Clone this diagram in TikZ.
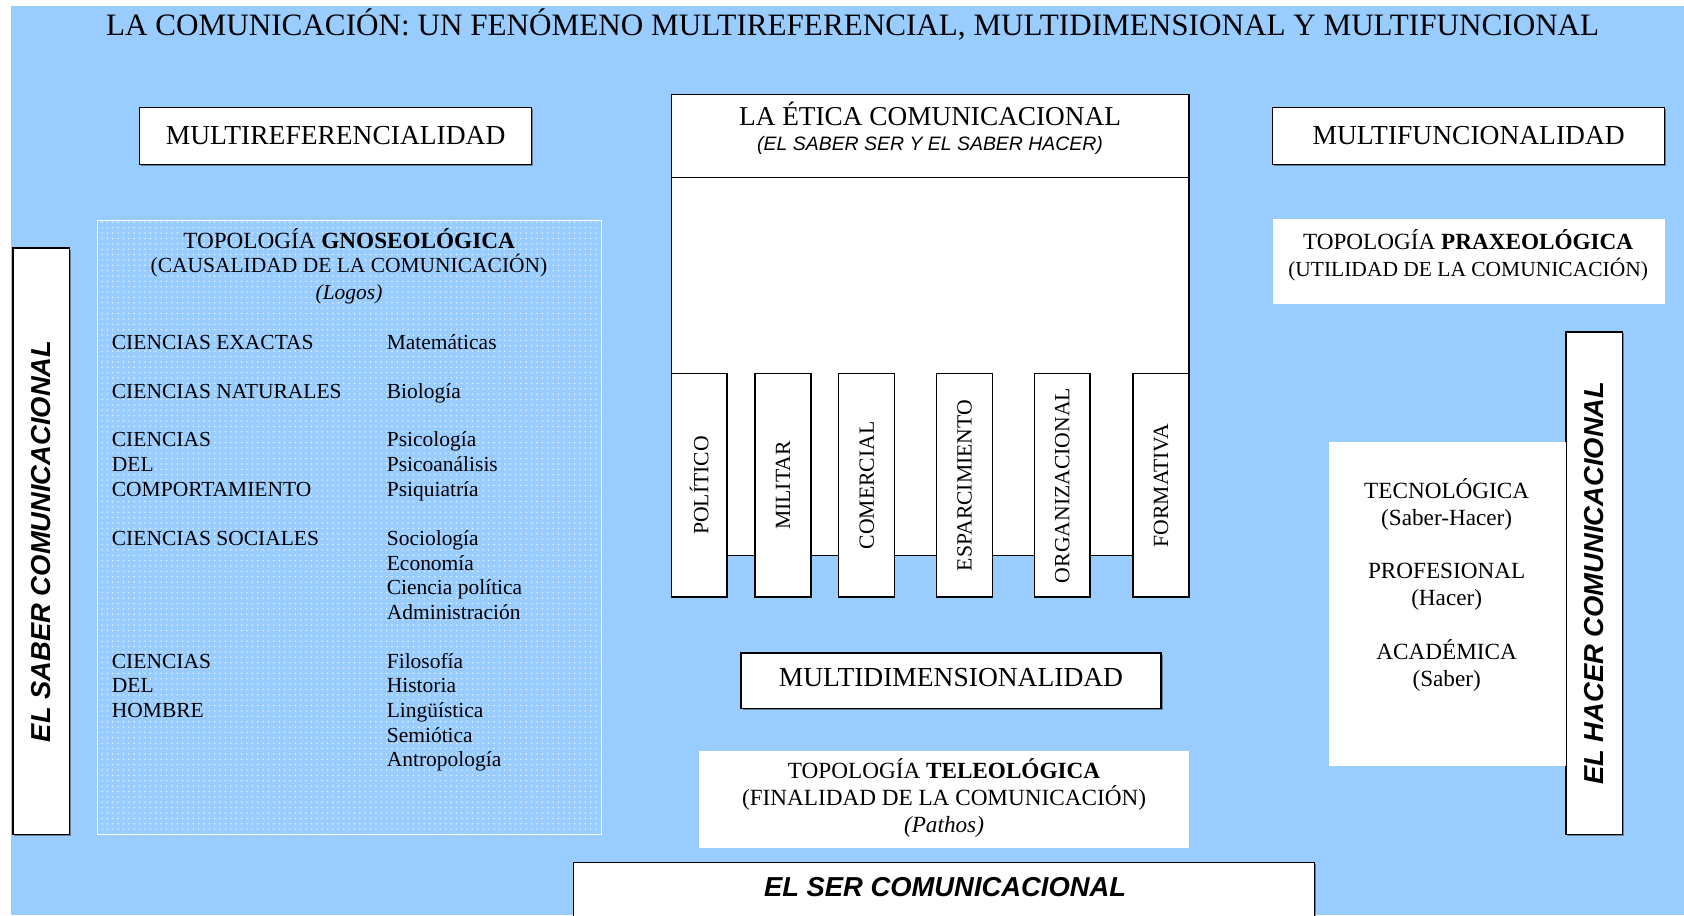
\documentclass[tikz,border=0pt]{standalone}
\usepackage{fontspec}
\setmainfont{Liberation Serif}
\setsansfont{Liberation Sans}
\usetikzlibrary{shadows,patterns.meta}
\definecolor{bg}{HTML}{99CCFF}
\tikzset{
  boxed/.style={draw=black, line width=1.2pt, fill=white, inner sep=0pt,
    drop shadow={shadow xshift=1.5pt, shadow yshift=-1.5pt, fill=black!70, opacity=.6}},
  plain/.style={fill=white, inner sep=0pt},
  big/.style={font=\fontsize{25.6}{30}\selectfont, inner sep=0pt},
  txt/.style={font=\fontsize{20}{23}\selectfont, inner sep=0pt},
  txtl/.style={font=\fontsize{21.6}{25}\selectfont, inner sep=0pt},
  sub/.style={font=\fontsize{18.1}{21}\selectfont\sffamily\itshape, inner sep=0pt},
  bigsans/.style={font=\fontsize{25.5}{30}\selectfont\sffamily\bfseries\itshape, inner sep=0pt},
  bar/.style={draw=black, line width=1.2pt, fill=white, inner sep=0pt,
    minimum width=52pt, minimum height=208pt},
  barlbl/.style={font=\fontsize{20.2}{23}\selectfont, inner sep=0pt, rotate=90},
}
\begin{document}
\begin{tikzpicture}[x=1pt,y=-1pt]
\path[use as bounding box, fill=white] (0,0) rectangle (1568,852);
\fill[bg] (10,6) rectangle (1568,852);

% title
\node[font=\fontsize{29}{34}\selectfont, inner sep=0pt, anchor=base] (title) at (794,33)
  {LA COMUNICACIÓN: UN FENÓMENO MULTIREFERENCIAL, MULTIDIMENSIONAL Y MULTIFUNCIONAL};

% three headings
\node[boxed, minimum width=365pt, minimum height=53pt] (mref) at (312.5,126.5) {};
\node[big] (mreft) at (mref) {MULTIREFERENCIALIDAD};
\node[boxed, minimum width=365pt, minimum height=53pt] (mfun) at (1367.5,126.5) {};
\node[big] (mfunt) at (mfun) {MULTIFUNCIONALIDAD};
\node[boxed, minimum width=391pt, minimum height=52pt] (mdim) at (885.5,634) {};
\node[big] (mdimt) at (885.5,631) {MULTIDIMENSIONALIDAD};

% side bars
\node[boxed, minimum width=53pt, minimum height=546pt] (saber) at (38.5,504) {};
\node[bigsans, rotate=90] (sabert) at (saber) {EL SABER COMUNICACIONAL};
\node[boxed, minimum width=53pt, minimum height=468pt] (hacer) at (1484.5,543) {};
\node[bigsans, rotate=90] (hacert) at (hacer) {EL HACER COMUNICACIONAL};
\node[boxed, minimum width=690pt, minimum height=127pt] (ser) at (879,866.5) {};
\node[bigsans, anchor=base] (sert) at (880,835) {EL SER COMUNICACIONAL};

% gnoseologica panel
\node[fill=bg, draw=white, line width=0.8pt, inner sep=0pt, minimum width=469pt, minimum height=572pt,
  postaction={pattern={Dots[distance=5pt, radius=0.8pt]}, pattern color=white!75!bg}] (gnos) at (325.5,491) {};
\node[txtl, anchor=base] (g1) at (325,231) {TOPOLOGÍA \textbf{GNOSEOLÓGICA}};
\node[txt, anchor=base] (g2) at (325,254) {(CAUSALIDAD DE LA COMUNICACIÓN)};
\node[txt, anchor=base] (g3) at (325,279) {\itshape (Logos)};
\node[txt, anchor=base west, align=left] (c1) at (104,325) {CIENCIAS EXACTAS};
\node[txt, anchor=base west, align=left] (d1) at (360,325) {Matemáticas};
\node[txt, anchor=base west, align=left] (c2) at (104,371) {CIENCIAS NATURALES};
\node[txt, anchor=base west, align=left] (d2) at (360,371) {Biología};
\node[txt, anchor=base west, align=left] (c3) at (104,462) {CIENCIAS\\DEL\\COMPORTAMIENTO};
\node[txt, anchor=base west, align=left] (d3) at (360,462) {Psicología\\Psicoanálisis\\Psiquiatría};
\node[txt, anchor=base west, align=left] (c4) at (104,508) {CIENCIAS SOCIALES};
\node[txt, anchor=base west, align=left] (d4) at (360,577) {Sociología\\Economía\\Ciencia política\\Administración};
\node[txt, anchor=base west, align=left] (c5) at (104,668) {CIENCIAS\\DEL\\HOMBRE};
\node[txt, anchor=base west, align=left] (d5) at (360,714) {Filosofía\\Historia\\Lingüística\\Semiótica\\Antropología};

% etica
\node[draw=black, line width=1.2pt, fill=white, inner sep=0pt, minimum width=482pt, minimum height=352pt] (body) at (866,341) {};
\node[draw=black, line width=1.2pt, fill=white, inner sep=0pt, minimum width=482pt, minimum height=77pt] (etica) at (866,126.5) {};
\node[font=\fontsize{25.4}{30}\selectfont, inner sep=0pt, anchor=base] (etica1) at (866,117) {LA ÉTICA COMUNICACIONAL};
\node[sub, anchor=base] (etica2) at (866,140) {(EL SABER SER Y EL SABER HACER)};
\node[bar] (b1) at (651,452) {};  \node[barlbl] (b1t) at (b1) {POLÍTICO};
\node[bar] (b2) at (729,452) {};  \node[barlbl] (b2t) at (b2) {MILITAR};
\node[bar] (b3) at (807,452) {};  \node[barlbl] (b3t) at (b3) {COMERCIAL};
\node[bar] (b4) at (898,452) {};  \node[barlbl] (b4t) at (b4) {ESPARCIMIENTO};
\node[bar] (b5) at (989,452) {};  \node[barlbl] (b5t) at (b5) {ORGANIZACIONAL};
\node[bar] (b6) at (1081,452) {}; \node[barlbl] (b6t) at (b6) {FORMATIVA};

% praxeologica
\node[plain, minimum width=365pt, minimum height=79pt] (prax) at (1367.5,243.5) {};
\node[txtl, anchor=base] (p1) at (1367,232) {TOPOLOGÍA \textbf{PRAXEOLÓGICA}};
\node[txt, anchor=base] (p2) at (1367,257) {(UTILIDAD DE LA COMUNICACIÓN)};
\node[plain, minimum width=221pt, minimum height=301pt] (func) at (1347.5,562.5) {};
\node[txtl, anchor=base] (f1) at (1347,464) {TECNOLÓGICA};
\node[txtl, anchor=base] (f2) at (1347,489) {(Saber-Hacer)};
\node[txtl, anchor=base] (f3) at (1347,539) {PROFESIONAL};
\node[txtl, anchor=base] (f4) at (1347,564) {(Hacer)};
\node[txtl, anchor=base] (f5) at (1347,614) {ACADÉMICA};
\node[txtl, anchor=base] (f6) at (1347,639) {(Saber)};

% teleologica
\node[plain, minimum width=456pt, minimum height=91pt] (tele) at (879,744.5) {};
\node[txtl, anchor=base] (t1) at (879,725) {TOPOLOGÍA \textbf{TELEOLÓGICA}};
\node[txtl, anchor=base] (t2) at (879,750) {(FINALIDAD DE LA COMUNICACIÓN)};
\node[txtl, anchor=base] (t3) at (879,775) {\itshape (Pathos)};
\end{tikzpicture}
\end{document}
